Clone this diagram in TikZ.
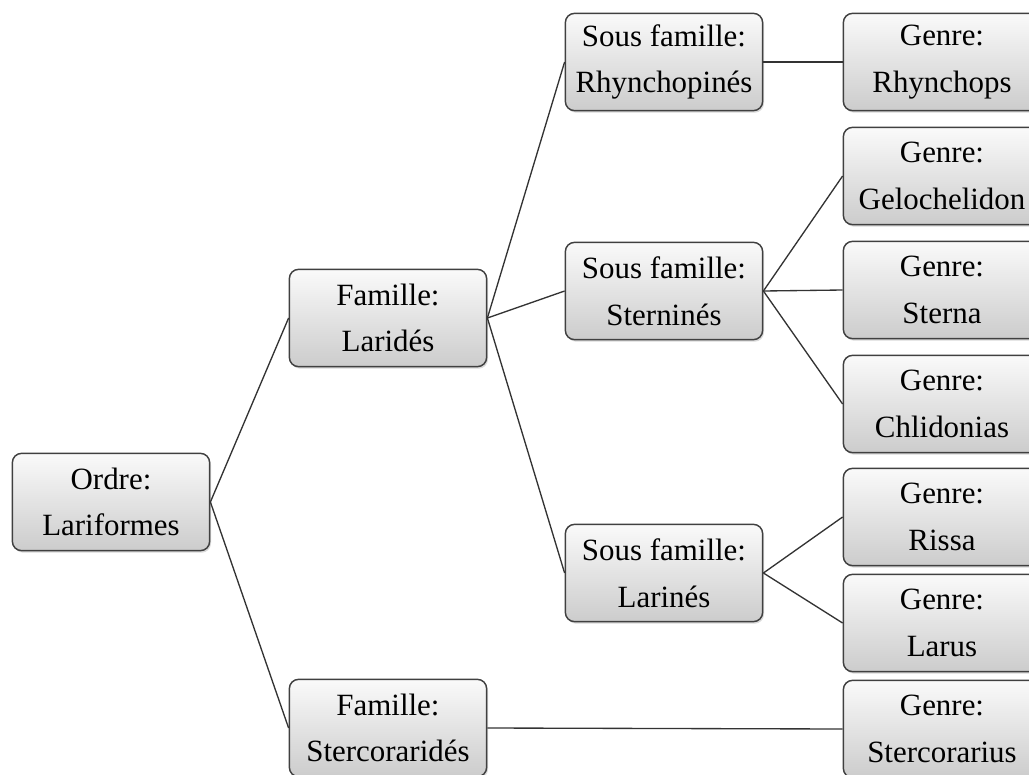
\documentclass[tikz,border=0pt]{standalone}
\usepackage{fontspec}
\setmainfont{Liberation Serif}
\usetikzlibrary{shadows}

\tikzset{
  taxon/.style={draw=black!75, line width=1.1pt, rounded corners=7pt,
    top color=gray!4, bottom color=gray!40,
    drop shadow={shadow xshift=1pt, shadow yshift=-1.5pt, opacity=0.3},
    minimum width=148pt, minimum height=73pt, inner sep=2pt,
    align=center, font=\fontsize{23.2}{35}\selectfont},
  link/.style={draw=black!80, line width=1pt}
}

\begin{document}
\begin{tikzpicture}[x=0.75pt, y=-0.75pt]
  % Frame
  \useasboundingbox (0, 0) rectangle (1029, 775);
  \clip (0, 0) rectangle (1029, 775);

  % Order and families
  \node[taxon] (ordre) at (111, 502) {Ordre:\\Lariformes};
  \node[taxon] (larides) at (388, 318) {Famille:\\Laridés};
  \node[taxon] (stercorarides) at (388, 728) {Famille:\\Stercoraridés};

  % Subfamilies
  \node[taxon] (rhynchopines) at (664, 62) {Sous famille:\\Rhynchopinés};
  \node[taxon] (sternines) at (664, 291) {Sous famille:\\Sterninés};
  \node[taxon] (larines) at (664, 573) {Sous famille:\\Larinés};

  % Genera
  \node[taxon] (rhynchops) at (942, 62) {Genre:\\Rhynchops};
  \node[taxon] (gelochelidon) at (942, 176) {Genre:\\Gelochelidon};
  \node[taxon] (sterna) at (942, 290) {Genre:\\Sterna};
  \node[taxon] (chlidonias) at (942, 404) {Genre:\\Chlidonias};
  \node[taxon] (rissa) at (942, 517) {Genre:\\Rissa};
  \node[taxon] (larus) at (942, 623) {Genre:\\Larus};
  \node[taxon] (stercorarius) at (942, 729) {Genre:\\Stercorarius};

  % Links
  \draw[link] (ordre.east) -- (larides.west);
  \draw[link] (ordre.east) -- (stercorarides.west);
  \draw[link] (larides.east) -- (rhynchopines.west);
  \draw[link] (larides.east) -- (sternines.west);
  \draw[link] (larides.east) -- (larines.west);
  \draw[link] (rhynchopines.east) -- (rhynchops.west);
  \draw[link] (sternines.east) -- (gelochelidon.west);
  \draw[link] (sternines.east) -- (sterna.west);
  \draw[link] (sternines.east) -- (chlidonias.west);
  \draw[link] (larines.east) -- (rissa.west);
  \draw[link] (larines.east) -- (larus.west);
  \draw[link] (stercorarides.east) -- (stercorarius.west);
\end{tikzpicture}
\end{document}
